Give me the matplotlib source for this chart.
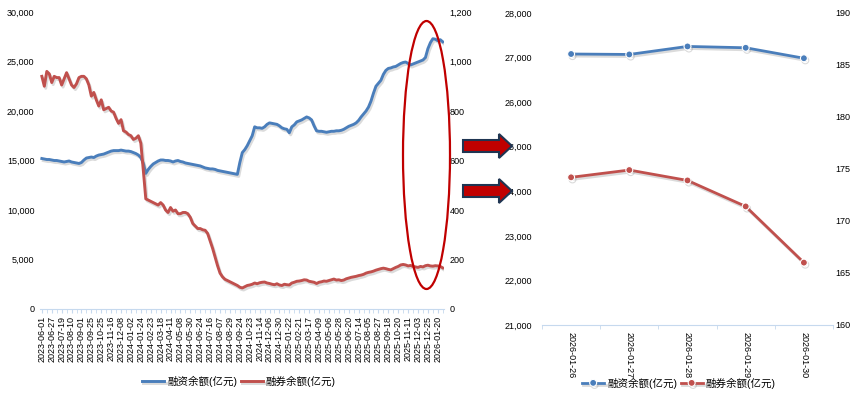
'''
'''

import matplotlib as mpl
import matplotlib.pyplot as plt
import matplotlib.patheffects as pe
from matplotlib.patches import Ellipse, Polygon
from matplotlib.ticker import FuncFormatter
import numpy as np


CONST_WIDTH = 865
CONST_HEIGHT = 399
CONST_DPI = 100

CONST_TICK_FONTSIZE = 6.5
CONST_LEGEND_FONTSIZE = 7.6

COLOR_FIN = '#4a7ebb'
COLOR_SEC = '#c0504d'
COLOR_AXIS = '#c6d9ee'
COLOR_MARK = '#c00000'

mpl.rcParams['font.family'] = ['Liberation Sans', 'Noto Sans CJK SC']
mpl.rcParams['axes.unicode_minus'] = False

# ---- data: long history, one sample every 4 trading days ----
STEP = 4
TICK_EVERY = 16

date_labels = ['2023-06-01', '2023-06-27', '2023-07-19', '2023-08-10', '2023-09-01',
               '2023-09-25', '2023-10-25', '2023-11-16', '2023-12-08', '2024-01-02',
               '2024-01-24', '2024-02-23', '2024-03-18', '2024-04-11', '2024-05-08',
               '2024-05-30', '2024-06-24', '2024-07-16', '2024-08-07', '2024-08-29',
               '2024-09-24', '2024-10-23', '2024-11-14', '2024-12-06', '2024-12-30',
               '2025-01-22', '2025-02-21', '2025-03-17', '2025-04-09', '2025-05-06',
               '2025-05-28', '2025-06-20', '2025-07-14', '2025-08-05', '2025-08-27',
               '2025-09-18', '2025-10-20', '2025-11-11', '2025-12-03', '2025-12-25',
               '2026-01-20']

financing = [15200, 15150, 15100, 15100, 15050, 15000, 15000, 14950, 14900, 14850,
             14900, 14950, 14850, 14800, 14750, 14700, 14800, 15050, 15250, 15300,
             15350, 15300, 15450, 15550, 15600, 15650, 15750, 15850, 15950, 16000,
             16000, 16000, 16050, 16000, 15950, 15950, 15900, 15800, 15700, 15550,
             15300, 14700, 13700, 14100, 14400, 14650, 14800, 14950, 15050, 15050,
             15000, 15000, 14950, 14850, 14950, 15000, 14900, 14850, 14750, 14700,
             14650, 14600, 14550, 14500, 14450, 14350, 14250, 14200, 14150, 14150,
             14100, 14000, 13950, 13900, 13850, 13800, 13750, 13700, 13650, 13600,
             14800, 15800, 16100, 16500, 17000, 17500, 18400, 18300, 18300, 18250,
             18400, 18650, 18800, 18750, 18700, 18650, 18500, 18300, 18200, 18150,
             17800, 18400, 18600, 18900, 19000, 19100, 19250, 19400, 19300, 19100,
             18500, 18000, 17950, 17950, 17900, 17850, 17900, 17950, 17950, 18000,
             18000, 18050, 18150, 18300, 18450, 18550, 18650, 18800, 19050, 19400,
             19700, 20000, 20400, 21000, 21800, 22500, 22800, 23100, 23700, 24100,
             24300, 24350, 24450, 24500, 24650, 24800, 24900, 24950, 24800, 24650,
             24750, 24850, 24950, 25050, 25150, 25400, 26300, 26900, 27300, 27250,
             27100, 27200, 26985]

securities = [940, 900, 960, 950, 915, 940, 935, 935, 905, 930,
              955, 930, 905, 895, 910, 935, 940, 940, 930, 905,
              860, 875, 845, 820, 845, 805, 810, 815, 800, 795,
              770, 750, 765, 720, 715, 705, 700, 685, 690, 700,
              670, 560, 445, 440, 435, 430, 425, 420, 430, 420,
              400, 390, 410, 395, 400, 385, 385, 390, 390, 385,
              370, 345, 335, 325, 325, 320, 318, 305, 275, 245,
              210, 175, 145, 130, 120, 115, 110, 105, 100, 95,
              88, 85, 90, 95, 97, 100, 105, 102, 106, 108,
              109, 105, 103, 100, 98, 102, 97, 95, 100, 98,
              97, 105, 108, 112, 113, 115, 118, 117, 112, 110,
              108, 103, 108, 110, 113, 112, 115, 118, 121, 117,
              118, 115, 117, 122, 125, 128, 130, 132, 135, 137,
              140, 145, 148, 150, 153, 157, 160, 163, 165, 163,
              160, 158, 163, 168, 172, 178, 180, 178, 174, 176,
              172, 170, 168, 172, 170, 175, 177, 174, 173, 175,
              174, 172, 166]

# ---- data: last five trading days ----
recent_dates = ['2026-01-26', '2026-01-27', '2026-01-28', '2026-01-29', '2026-01-30']
recent_financing = [27080, 27070, 27250, 27220, 26985]
recent_securities = [174.2, 174.9, 173.9, 171.4, 166.0]

LABEL_FIN = '融资余额(亿元)'
LABEL_SEC = '融券余额(亿元)'


def fig_rect(left, top, right, bottom):
    # pixel box -> figure fraction rect
    return [left / CONST_WIDTH, 1 - bottom / CONST_HEIGHT,
            (right - left) / CONST_WIDTH, (bottom - top) / CONST_HEIGHT]


def fig_pt(x, y):
    return (x / CONST_WIDTH, 1 - y / CONST_HEIGHT)


thousands = FuncFormatter(lambda v, p: f'{v:,.0f}')
shadow = [pe.SimpleLineShadow(offset=(1, -1.5), shadow_color='#888888', alpha=0.3),
          pe.Normal()]

fig = plt.figure(figsize=(CONST_WIDTH / CONST_DPI, CONST_HEIGHT / CONST_DPI),
                 dpi=CONST_DPI)

# ---------------- left: full history ----------------
ax1 = fig.add_axes(fig_rect(40, 12, 444, 309))
x_long = np.arange(len(financing)) * STEP
ax1_fin, = ax1.plot(x_long, financing, color=COLOR_FIN, lw=2.1,
                    path_effects=shadow, label=LABEL_FIN)
ax1.set_ylim(0, 30000)
ax1.set_yticks(np.arange(0, 30001, 5000))
ax1.yaxis.set_major_formatter(thousands)
ax1.set_xlim(-3, 650)
ax1.set_xticks(np.arange(len(date_labels)) * TICK_EVERY)
ax1.set_xticklabels(date_labels, rotation=90)
ax1.set_xticks(np.arange(0, 650, TICK_EVERY // 2), minor=True)
for side in ['top', 'left', 'right']:
    ax1.spines[side].set_visible(False)
ax1.spines['bottom'].set_color(COLOR_AXIS)
ax1.tick_params(axis='y', length=0, labelsize=CONST_TICK_FONTSIZE, pad=4)
ax1.tick_params(axis='x', which='both', length=3, color=COLOR_AXIS,
                labelsize=CONST_TICK_FONTSIZE, pad=2)

ax1b = ax1.twinx()
ax1_sec, = ax1b.plot(x_long, securities, color=COLOR_SEC, lw=2.1,
                     path_effects=shadow, label=LABEL_SEC)
ax1b.set_ylim(0, 1200)
ax1b.set_yticks(np.arange(0, 1201, 200))
ax1b.yaxis.set_major_formatter(thousands)
for side in ['top', 'left', 'right', 'bottom']:
    ax1b.spines[side].set_visible(False)
ax1b.tick_params(axis='y', length=0, labelsize=CONST_TICK_FONTSIZE, pad=4)

fig.legend(handles=[ax1_fin, ax1_sec], loc='center',
           bbox_to_anchor=fig_pt(239, 381), ncol=2, frameon=False,
           fontsize=CONST_LEGEND_FONTSIZE, handlelength=2.1,
           handletextpad=0.3, columnspacing=0.3)

# ---------------- right: last five days ----------------
ax2 = fig.add_axes(fig_rect(542, 13, 833, 325))
x_short = np.arange(len(recent_dates))
ax2_fin, = ax2.plot(x_short, recent_financing, color=COLOR_FIN, lw=2,
                    marker='o', ms=5, mec='white', mew=0.8,
                    path_effects=shadow, label=LABEL_FIN)
ax2.set_ylim(21000, 28000)
ax2.set_yticks(np.arange(21000, 28001, 1000))
ax2.yaxis.set_major_formatter(thousands)
ax2.set_xlim(-0.5, len(recent_dates) - 0.5)
ax2.set_xticks(x_short)
ax2.set_xticklabels(recent_dates, rotation=-90)
ax2.set_xticks(np.arange(len(recent_dates) + 1) - 0.5, minor=True)
for side in ['top', 'left', 'right']:
    ax2.spines[side].set_visible(False)
ax2.spines['bottom'].set_color(COLOR_AXIS)
ax2.tick_params(axis='y', length=0, labelsize=CONST_TICK_FONTSIZE, pad=7)
ax2.tick_params(axis='x', which='major', length=0,
                labelsize=CONST_TICK_FONTSIZE, pad=5)
ax2.tick_params(axis='x', which='minor', length=3, color=COLOR_AXIS)

ax2b = ax2.twinx()
ax2_sec, = ax2b.plot(x_short, recent_securities, color=COLOR_SEC, lw=2,
                     marker='o', ms=5, mec='white', mew=0.8,
                     path_effects=shadow, label=LABEL_SEC)
ax2b.set_ylim(160, 190)
ax2b.set_yticks(np.arange(160, 191, 5))
for side in ['top', 'left', 'right', 'bottom']:
    ax2b.spines[side].set_visible(False)
ax2b.tick_params(axis='y', length=0, labelsize=CONST_TICK_FONTSIZE, pad=2)

fig.legend(handles=[ax2_fin, ax2_sec], loc='center',
           bbox_to_anchor=fig_pt(679, 383), ncol=2, frameon=False,
           fontsize=CONST_LEGEND_FONTSIZE, handlelength=2.1,
           handletextpad=0.3, columnspacing=0.3)

# ---------------- callouts: ellipse + arrows ----------------
ring = Ellipse(fig_pt(426.5, 155), 47 / CONST_WIDTH, 268 / CONST_HEIGHT,
               transform=fig.transFigure, fill=False, ec=COLOR_MARK, lw=1.6)
fig.add_artist(ring)

for cy in (146, 191):
    outline = [(463, cy - 6), (499, cy - 6), (499, cy - 12), (512, cy),
               (499, cy + 12), (499, cy + 6), (463, cy + 6)]
    arrow = Polygon([fig_pt(px, py) for px, py in outline], closed=True,
                    transform=fig.transFigure, fc=COLOR_MARK, ec='#1f3552', lw=1.5)
    fig.add_artist(arrow)

fig.savefig('out.png', dpi=CONST_DPI)
